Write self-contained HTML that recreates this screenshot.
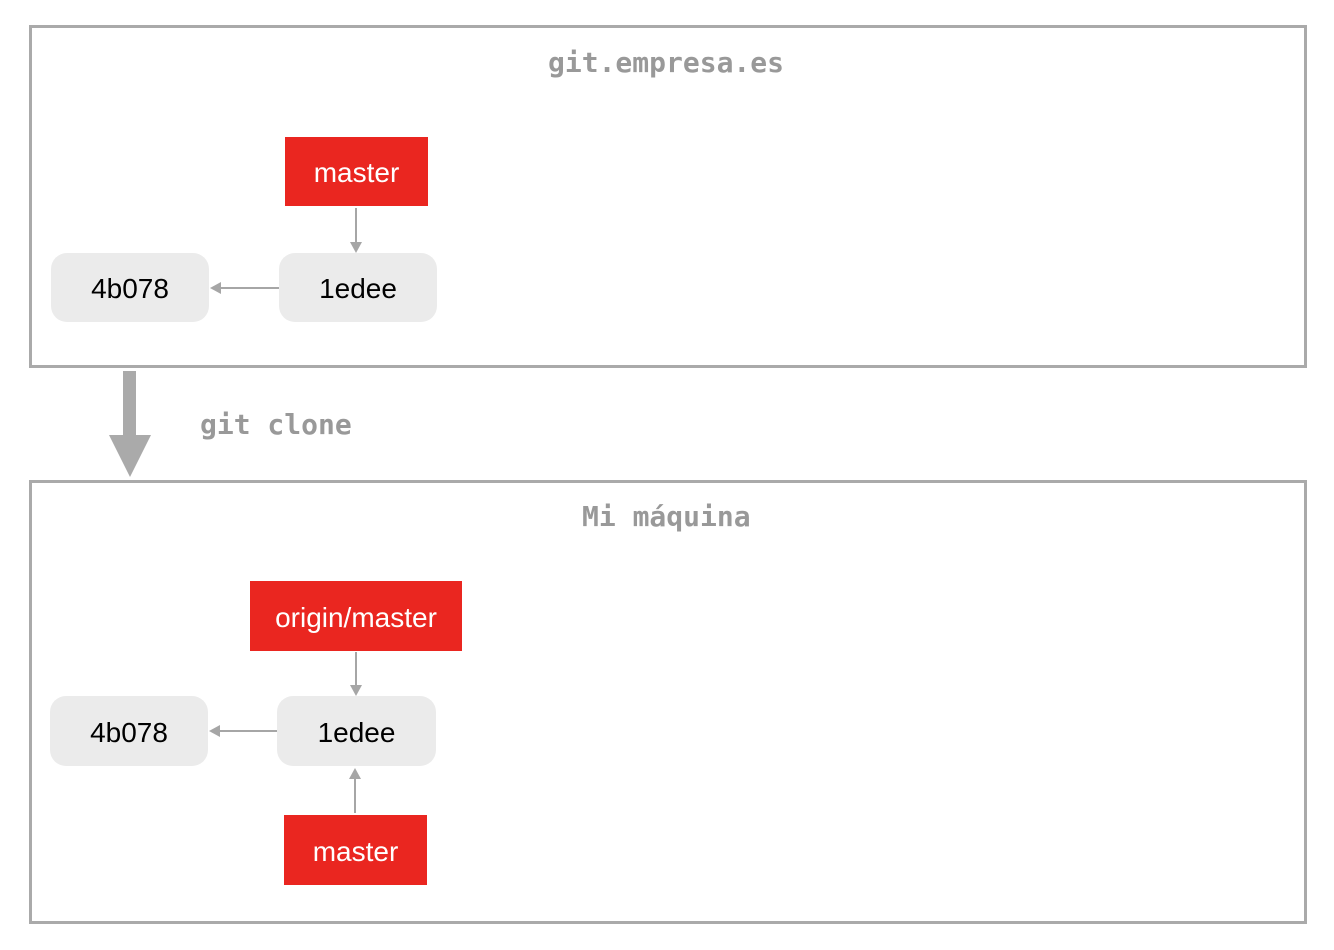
<!DOCTYPE html>
<html><head><style>
body{margin:0;width:1334px;height:950px;background:#fff;position:relative;overflow:hidden;font-family:"Liberation Sans",Helvetica,sans-serif}
.box{position:absolute;border:3px solid #aaa;box-sizing:border-box}
.t{position:absolute;font-family:"DejaVu Sans Mono","Liberation Mono",monospace;font-weight:bold;color:#999;font-size:28px;white-space:nowrap}
.n{position:absolute;background:#ebebeb;border-radius:16px;display:flex;align-items:center;justify-content:center;font-size:28px;color:#000;padding-top:3px;box-sizing:border-box}
.r{position:absolute;background:#ea2620;display:flex;align-items:center;justify-content:center;font-size:28px;color:#fff;padding-top:3px;box-sizing:border-box}
svg{position:absolute;left:0;top:0}
</style></head><body>
<div class="box" style="left:29px;top:25px;width:1278px;height:343px"></div>
<div class="box" style="left:29px;top:480px;width:1278px;height:444px"></div>
<div class="t" style="left:548px;top:46px">git.empresa.es</div>
<div class="t" style="left:200px;top:408px">git clone</div>
<div class="t" style="left:582px;top:500px">Mi máquina</div>
<div class="r" style="left:285px;top:137px;width:143px;height:69px">master</div>
<div class="n" style="left:51px;top:253px;width:158px;height:69px">4b078</div>
<div class="n" style="left:279px;top:253px;width:158px;height:69px">1edee</div>
<div class="r" style="left:250px;top:581px;width:212px;height:70px">origin/master</div>
<div class="n" style="left:50px;top:696px;width:158px;height:70px">4b078</div>
<div class="n" style="left:277px;top:696px;width:159px;height:70px">1edee</div>
<div class="r" style="left:284px;top:815px;width:143px;height:70px">master</div>
<svg width="1334" height="950">
<g stroke="#a6a6a6" stroke-width="2" fill="#a6a6a6">
<line x1="356" y1="208" x2="356" y2="244"/><polygon points="350,242 362,242 356,253" stroke="none"/>
<line x1="279" y1="288" x2="220" y2="288"/><polygon points="221,282 221,294 210,288" stroke="none"/>
<line x1="356" y1="652" x2="356" y2="687"/><polygon points="350,685 362,685 356,696" stroke="none"/>
<line x1="277" y1="731" x2="219" y2="731"/><polygon points="220,725 220,737 209,731" stroke="none"/>
<line x1="355" y1="813" x2="355" y2="777"/><polygon points="349,779 361,779 355,768" stroke="none"/>
</g>
<rect x="123" y="371" width="13" height="65" fill="#aaa"/>
<polygon points="109,435 151,435 130,477" fill="#aaa"/>
</svg>
</body></html>
